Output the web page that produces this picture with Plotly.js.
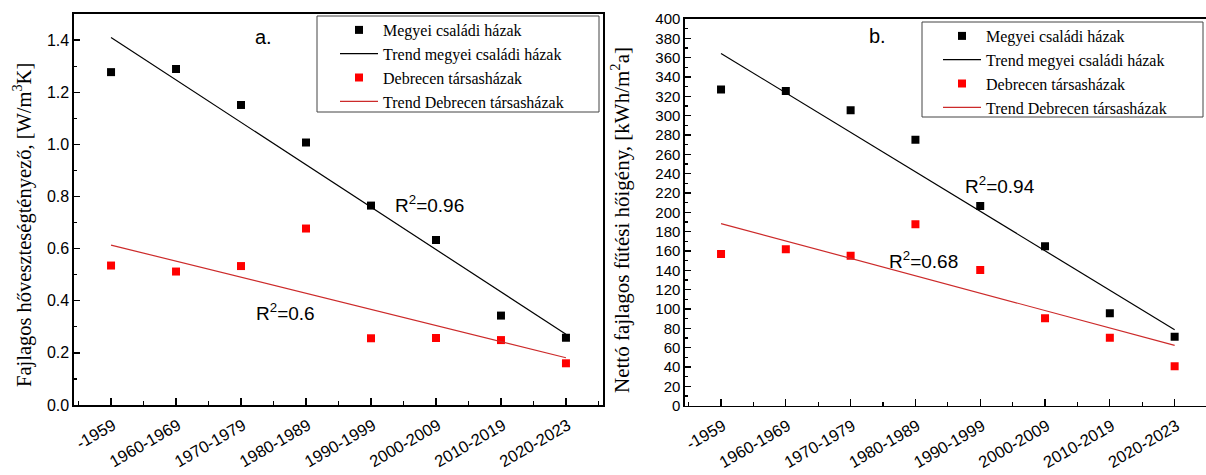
<!DOCTYPE html>
<html>
<head>
<meta charset="utf-8">
<script src="https://cdn.plot.ly/plotly-3.0.1.min.js"></script>
<style>
  html, body { margin: 0; padding: 0; background: #fff; }
  #chart { width: 1206px; height: 475px; }
</style>
</head>
<body>
<div id="chart"></div>
<script>
// Construction periods shared by both panels
const periods = ['-1959', '1960-1969', '1970-1979', '1980-1989', '1990-1999', '2000-2009', '2010-2019', '2020-2023'];

// Panel a: specific heat loss coefficient [W/m3K]
const heatLossCounty   = [1.277, 1.289, 1.151, 1.007, 0.765, 0.633, 0.343, 0.258];
const heatLossDebrecen = [0.535, 0.512, 0.533, 0.677, 0.256, 0.257, 0.249, 0.160];

// Panel b: net specific heating demand [kWh/m2a]
const demandCounty   = [327.0, 325.5, 305.6, 275.2, 206.6, 164.9, 95.6, 71.4];
const demandDebrecen = [156.9, 161.8, 155.2, 187.6, 140.4, 90.4, 70.3, 40.8];

// Coefficients of determination printed next to the trend lines
const r2HeatLoss = ['0.96', '0.6'];
const r2Demand   = ['0.94', '0.68'];

const seriesNames = ['Megyei családi házak', 'Trend megyei családi házak', 'Debrecen társasházak', 'Trend Debrecen társasházak'];
const axisTitles = ['Fajlagos hőveszteségtényező, [W/m<sup>3</sup>K]', 'Nettó fajlagos fűtési hőigény, [kWh/m<sup>2</sup>a]'];

const idx = periods.map((_, i) => i);

// Ordinary least-squares line over the period index
function linearFit(ys) {
  const n = ys.length;
  const mx = idx.reduce((a, b) => a + b, 0) / n;
  const my = ys.reduce((a, b) => a + b, 0) / n;
  let sxy = 0, sxx = 0;
  idx.forEach((x, i) => { sxy += (x - mx) * (ys[i] - my); sxx += (x - mx) * (x - mx); });
  const slope = sxy / sxx;
  const icept = my - slope * mx;
  return idx.map(x => icept + slope * x);
}

const W = 1206, H = 475;
const px = v => v / W;
const py = v => 1 - v / H;

const BLACK = '#000000';
const RED = '#ff0000';
const RED_LINE = '#cc2a2a';

function panelTraces(countyVals, debrecenVals, xa, ya, legendId) {
  return [
    { x: idx, y: countyVals, xaxis: xa, yaxis: ya, legend: legendId, name: seriesNames[0],
      type: 'scatter', mode: 'markers', marker: { symbol: 'square', size: 8, color: BLACK } },
    { x: idx, y: linearFit(countyVals), xaxis: xa, yaxis: ya, legend: legendId, name: seriesNames[1],
      type: 'scatter', mode: 'lines', line: { color: BLACK, width: 1.2 } },
    { x: idx, y: debrecenVals, xaxis: xa, yaxis: ya, legend: legendId, name: seriesNames[2],
      type: 'scatter', mode: 'markers', marker: { symbol: 'square', size: 8, color: RED } },
    { x: idx, y: linearFit(debrecenVals), xaxis: xa, yaxis: ya, legend: legendId, name: seriesNames[3],
      type: 'scatter', mode: 'lines', line: { color: RED_LINE, width: 1.2 } }
  ];
}

const traces = [
  ...panelTraces(heatLossCounty, heatLossDebrecen, 'x', 'y', 'legend'),
  ...panelTraces(demandCounty, demandDebrecen, 'x2', 'y2', 'legend2')
];

const sans = 'Liberation Sans, Arial, sans-serif';
const serif = 'Liberation Serif, Times New Roman, serif';

function catAxis(domain, range, anchor) {
  return {
    domain: domain, range: range, anchor: anchor,
    tickmode: 'array', tickvals: idx, ticktext: periods, tickangle: -30,
    ticklabelstandoff: 3, ticklabelshift: 2,
    ticks: 'inside', ticklen: 7, tickwidth: 1.3, tickcolor: BLACK,
    minor: { ticks: 'inside', tickmode: 'linear', tick0: -0.5, dtick: 1, ticklen: 4, tickwidth: 1.2, tickcolor: BLACK },
    showline: true, linewidth: 1.6, linecolor: BLACK, mirror: true,
    showgrid: false, zeroline: false,
    tickfont: { family: sans, size: 16.5, color: BLACK }
  };
}

function valAxis(domain, range, dtick, minorStep, fmt, tsize, anchor) {
  return {
    domain: domain, range: range, anchor: anchor,
    tickmode: 'linear', tick0: 0, dtick: dtick, tickformat: fmt,
    ticks: 'inside', ticklen: 6, tickwidth: 1.3, tickcolor: BLACK,
    minor: { ticks: 'inside', tickmode: 'linear', tick0: 0, dtick: minorStep, ticklen: 3, tickwidth: 1.2, tickcolor: BLACK },
    showline: true, linewidth: 1.6, linecolor: BLACK, mirror: true,
    showgrid: false, zeroline: false,
    tickfont: { family: sans, size: tsize, color: BLACK }
  };
}

// Legend entries sit inside a framed box drawn as a shape
function legendBox(x, y) {
  return {
    x: x, y: y, xanchor: 'left', yanchor: 'top', xref: 'paper', yref: 'paper',
    bgcolor: 'rgba(0,0,0,0)', borderwidth: 0,
    font: { family: serif, size: 16, color: BLACK },
    itemwidth: 38, traceorder: 'normal', tracegroupgap: 0
  };
}

function frame(x0, y0, x1, y1) {
  return { type: 'rect', xref: 'paper', yref: 'paper', layer: 'above',
           x0: px(x0), x1: px(x1), y0: py(y0), y1: py(y1),
           fillcolor: '#ffffff', line: { color: '#444444', width: 1 } };
}

function label(text, x, y, size) {
  return { text: text, x: px(x), y: py(y), xref: 'paper', yref: 'paper',
           xanchor: 'center', yanchor: 'middle', showarrow: false,
           font: { family: sans, size: size, color: BLACK } };
}

// Vertical value-axis titles
function sideTitle(text, x, y, size) {
  return { text: text, x: px(x), y: py(y), xref: 'paper', yref: 'paper',
           xanchor: 'center', yanchor: 'middle', textangle: -90, showarrow: false,
           font: { family: serif, size: size, color: BLACK } };
}

const layout = {
  width: W, height: H,
  margin: { l: 0, r: 0, t: 0, b: 0 },
  paper_bgcolor: '#ffffff', plot_bgcolor: '#ffffff',
  xaxis: catAxis([px(74), px(603)], [-0.57, 7.57], 'y'),
  yaxis: valAxis([1 - 405 / H, 1 - 14 / H], [0, 1.5], 0.2, 0.1, '.1f', 16, 'x'),
  xaxis2: catAxis([px(685), 1], [-0.556, 7.484], 'y2'),
  yaxis2: valAxis([1 - 405.7 / H, 1 - 19 / H], [0, 400], 20, 10, 'd', 15, 'x2'),
  legend: legendBox(px(335), py(13)),
  legend2: legendBox(px(938), py(19)),
  shapes: [frame(317, 16, 599, 112), frame(922, 22, 1203, 117)],
  annotations: [
    sideTitle(axisTitles[0], 23, 225, 20.5),
    sideTitle(axisTitles[1], 620, 220, 21),
    label('a.', 263, 37, 20),
    label('b.', 877, 36, 20),
    label('R<sup>2</sup>=' + r2HeatLoss[0], 429, 204, 19),
    label('R<sup>2</sup>=' + r2HeatLoss[1], 285, 312, 19),
    label('R<sup>2</sup>=' + r2Demand[0], 1000, 185, 19),
    label('R<sup>2</sup>=' + r2Demand[1], 923, 260, 19)
  ],
  hovermode: 'closest'
};

Plotly.newPlot('chart', traces, layout, { displayModeBar: false, staticPlot: true });
</script>
</body>
</html>
